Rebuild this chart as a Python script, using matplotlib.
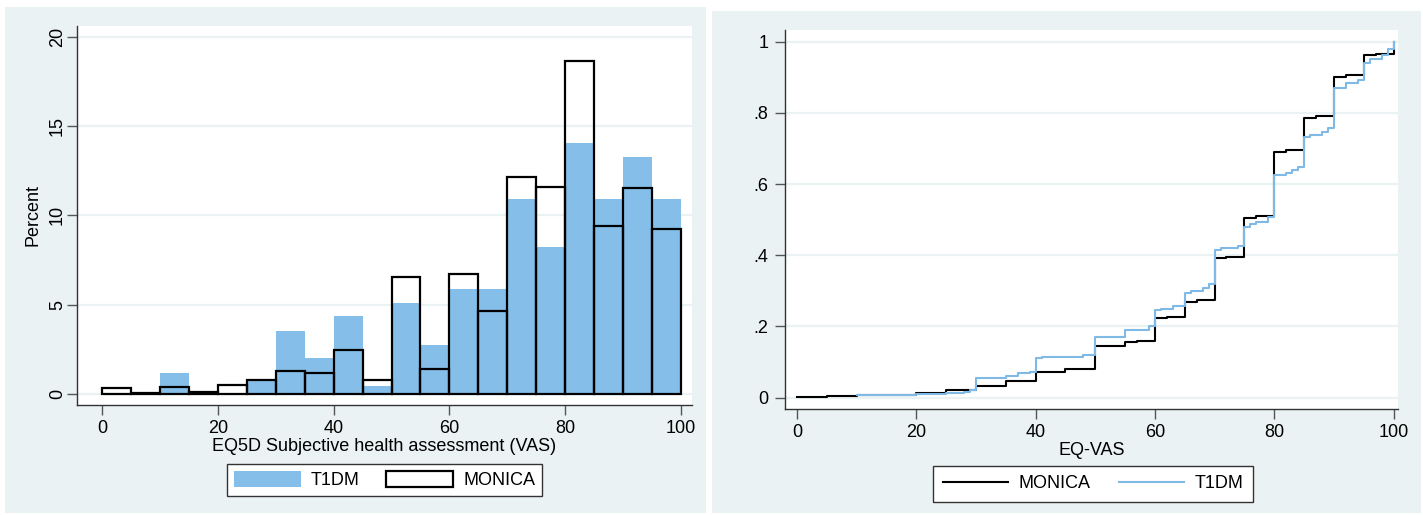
import matplotlib
matplotlib.use('Agg')
import matplotlib.pyplot as plt
from matplotlib.patches import Rectangle
from matplotlib.ticker import FuncFormatter

plt.rcParams['font.family'] = ['Liberation Sans', 'DejaVu Sans']

# Histogram: percent per 5-point bin of the VAS score
bin_left = [0, 5, 10, 15, 20, 25, 30, 35, 40, 45, 50, 55, 60, 65, 70, 75, 80, 85, 90, 95]
t1dm_pct = [0, 0, 1.17, 0, 0, 0.78, 3.50, 2.01, 4.34, 0.43,
            5.09, 2.76, 5.87, 5.87, 10.94, 8.22, 14.04, 10.94, 13.29, 10.94]
monica_pct = [0.34, 0.06, 0.39, 0.13, 0.52, 0.78, 1.30, 1.19, 2.48, 0.76,
              6.56, 1.40, 6.69, 4.64, 12.15, 11.57, 18.64, 9.38, 11.52, 9.23]

# Empirical cumulative distribution of EQ-VAS (step points)
monica_x = [0, 5, 10, 15, 20, 25, 30, 35, 40, 45, 50, 55, 57, 60, 62, 65, 67, 70, 72,
            75, 77, 80, 82, 85, 87, 90, 92, 95, 97, 100]
monica_y = [0.003, 0.004, 0.006, 0.008, 0.012, 0.020, 0.034, 0.046, 0.071, 0.080, 0.144,
            0.155, 0.160, 0.223, 0.227, 0.270, 0.274, 0.392, 0.396, 0.504, 0.510, 0.690,
            0.697, 0.787, 0.792, 0.902, 0.906, 0.962, 0.966, 1.0]
t1dm_x = [10, 15, 20, 25, 28, 29, 30, 35, 37, 39, 40, 41, 48, 50, 55, 59, 60, 61, 63, 65,
          66, 68, 69, 70, 71, 74, 75, 76, 77, 79, 80, 82, 83, 84, 85, 86, 88, 89, 90, 92,
          94, 95, 96, 98, 99, 100]
t1dm_y = [0.006, 0.008, 0.010, 0.012, 0.016, 0.020, 0.054, 0.060, 0.068, 0.072, 0.110,
          0.115, 0.119, 0.170, 0.190, 0.200, 0.246, 0.250, 0.258, 0.293, 0.300, 0.309,
          0.318, 0.415, 0.420, 0.426, 0.479, 0.487, 0.494, 0.508, 0.625, 0.632, 0.640,
          0.649, 0.731, 0.738, 0.747, 0.758, 0.871, 0.883, 0.892, 0.939, 0.951, 0.962,
          0.979, 1.0]

BG = '#eaf2f3'
BLUE = '#85bee8'
LINEBLUE = '#7fb9e6'
W, H = 1423, 515

fig = plt.figure(figsize=(W / 100, H / 100), dpi=100)


def box(x0, y0, x1, y1):
    # pixel box (top-left origin) -> figure fraction rect
    return [x0 / W, 1 - y1 / H, (x1 - x0) / W, (y1 - y0) / H]


# panel backgrounds (Stata-like graph region)
for x0, y0, x1, y1 in [(5, 7, 706, 513), (712, 11, 1421, 513)]:
    fig.patches.append(Rectangle((x0 / W, 1 - y1 / H), (x1 - x0) / W, (y1 - y0) / H,
                                 transform=fig.transFigure, facecolor=BG,
                                 edgecolor='none', zorder=-10))


def style(ax):
    ax.set_facecolor('white')
    for s in ['top', 'right']:
        ax.spines[s].set_visible(False)
    for s in ['left', 'bottom']:
        ax.spines[s].set_color('#333333')
        ax.spines[s].set_linewidth(1)
    ax.tick_params(direction='out', length=7, width=1, color='#555555',
                   labelsize=13, pad=5)
    ax.tick_params(axis='x', pad=4)
    ax.grid(axis='y', color=BG, linewidth=1.6)
    ax.set_axisbelow(True)
    ax.set_xticks([0, 20, 40, 60, 80, 100])


# --- left: histogram ---
ax1 = fig.add_axes(box(77, 26, 692, 405), zorder=1)
ax1.bar(bin_left, t1dm_pct, width=5, align='edge', color=BLUE, edgecolor='none',
        label='T1DM', zorder=2)
ax1.bar(bin_left, monica_pct, width=5, align='edge', facecolor='none',
        edgecolor='black', linewidth=1.6, label='MONICA', zorder=3)
ax1.set_xlim(-4.32, 101.9)
ax1.set_ylim(-0.62, 20.6)
style(ax1)
ax1.set_yticks([0, 5, 10, 15, 20])
ax1.tick_params(axis='y', labelrotation=90, pad=1)
for lbl in ax1.get_yticklabels():
    lbl.set_va('center')
ax1.set_ylabel('Percent', fontsize=13)
ax1.yaxis.set_label_coords(-0.058, 0.5)
ax1.set_xlabel('EQ5D Subjective health assessment (VAS)', fontsize=13)
ax1.xaxis.set_label_coords(0.5, -0.088)
leg1 = ax1.legend(loc='center', bbox_to_anchor=(384.5 / W, 1 - 480 / H),
                  bbox_transform=fig.transFigure, ncol=2, fancybox=False,
                  edgecolor='#333333', framealpha=1, handlelength=3.7,
                  handleheight=1.05, handletextpad=0.55, columnspacing=1.5,
                  borderpad=0.4, fontsize=13)
leg1.get_frame().set_linewidth(1)

# --- right: cumulative distribution ---
ax2 = fig.add_axes(box(785, 30, 1398, 409), zorder=1)
ax2.step(monica_x, monica_y, where='post', color='black', linewidth=1.5,
         label='MONICA', zorder=3)
ax2.step(t1dm_x, t1dm_y, where='post', color=LINEBLUE, linewidth=1.5,
         label='T1DM', zorder=4)
ax2.set_xlim(-2.0, 100.75)
ax2.set_ylim(-0.032, 1.033)
style(ax2)
ax2.set_yticks([0, 0.2, 0.4, 0.6, 0.8, 1.0])
ax2.yaxis.set_major_formatter(FuncFormatter(
    lambda v, p: '%g' % v if v in (0, 1) else ('%.1f' % v).lstrip('0')))
ax2.set_xlabel('EQ-VAS', fontsize=13)
ax2.xaxis.set_label_coords(0.5, -0.088)
leg2 = ax2.legend(loc='center', bbox_to_anchor=(1093 / W, 1 - 484 / H),
                  bbox_transform=fig.transFigure, ncol=2, fancybox=False,
                  edgecolor='#333333', framealpha=1, handlelength=3.6,
                  handletextpad=0.6, columnspacing=1.55, borderpad=0.55,
                  fontsize=13)
leg2.get_frame().set_linewidth(1)

fig.savefig('out.png', dpi=100, facecolor='white')
